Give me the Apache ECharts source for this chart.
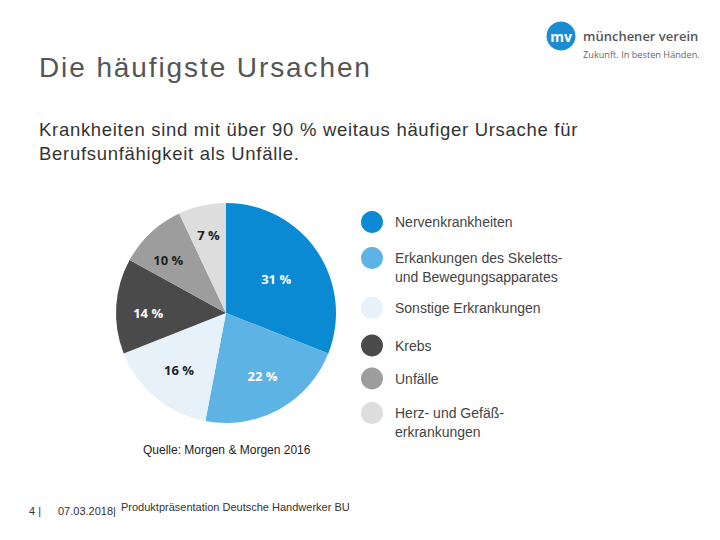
<!DOCTYPE html>
<html><head><meta charset="utf-8">
<script src="https://cdn.jsdelivr.net/npm/echarts@6/dist/echarts.min.js"></script>
<style>html,body{margin:0;padding:0;background:#fff}#c{width:720px;height:540px}</style>
</head><body><div id="c"></div>
<script>
var categories = ['Nervenkrankheiten', 'Erkankungen des Skeletts-\nund Bewegungsapparates', 'Sonstige Erkrankungen', 'Krebs', 'Unfälle', 'Herz- und Gefäß-\nerkrankungen'];
var values = [31, 22, 16, 14, 10, 7];
var colors = ['#0a8ad2', '#5db3e3', '#e6f1fa', '#4a4a4a', '#9d9d9d', '#dddddd'];
var labelColors = ['#ffffff', '#ffffff', '#222222', '#ffffff', '#222222', '#222222'];

var chart = echarts.init(document.getElementById('c'), null, { renderer: 'svg' });
var data = categories.map(function (n, i) {
  return { name: n, value: values[i], itemStyle: { color: colors[i] },
    label: { color: labelColors[i] } };
});
var legendTops = [211, 229.5, 297, 334.5, 367.5, 384.5];
var legends = categories.map(function (n, i) {
  var two = n.indexOf('\n') >= 0;
  return {
    left: 361, top: legendTops[i], padding: 0, orient: 'vertical',
    data: [{ name: n, icon: 'circle' }], itemWidth: 22, itemHeight: 22,
    selectedMode: false,
    formatter: function (name) { return two ? '\n' + name : name; },
    textStyle: { fontFamily: 'Arial', fontSize: 14, color: '#444',
      lineHeight: 19, padding: [0, 0, 0, 7] }
  };
});
var labelShift = [[-16, 11], [-2, -7], [4, -5], [2, 5], [-3, 5], [0, 0]];
chart.setOption({
  animation: false,
  legend: legends,
  series: [{
    type: 'pie', center: [226, 313], radius: 110, startAngle: 90,
    silent: true,
    label: { show: false }, labelLine: { show: false },
    data: data
  }, {
    type: 'pie', center: [226, 313], radius: [0, 154], startAngle: 90,
    silent: true, legendHoverLink: false,
    itemStyle: { color: 'rgba(0,0,0,0)' },
    label: { show: true, position: 'inside', formatter: '{c} %',
      fontFamily: 'Open Sans', fontWeight: 'bold', fontSize: 13 },
    labelLayout: function (p) { var s = labelShift[p.dataIndex]; return { dx: s[0], dy: s[1] }; },
    labelLine: { show: false },
    data: data.map(function (d) { return { name: d.name + ' ', value: d.value, label: d.label }; })
  }],
  graphic: [
    { type: 'text', left: 39, top: 53, style: { text: 'Die häufigste Ursachen', fontFamily: 'Arial', fontSize: 28, fill: '#555' } },
    { type: 'text', left: 39, top: 118, style: { text: 'Krankheiten sind mit über 90 % weitaus häufiger Ursache für\nBerufsunfähigkeit als Unfälle.', fontFamily: 'Arial', fontSize: 18.5, fill: '#333', lineHeight: 23.5 } },
    { type: 'circle', shape: { cx: 561, cy: 36, r: 14.5 }, style: { fill: '#1a8ccf' } },
    { type: 'text', x: 561, y: 36, style: { text: 'mv', fontFamily: 'Open Sans', fontWeight: 'bold', fontSize: 14, fill: '#fff', align: 'center', verticalAlign: 'middle' } },
    { type: 'text', x: 583, y: 36, style: { text: 'münchener verein', fontFamily: 'Open Sans', fontWeight: 600, fontSize: 13, fill: '#555', verticalAlign: 'middle' } },
    { type: 'text', x: 583, y: 54, style: { text: 'Zukunft. In besten Händen.', fontFamily: 'Open Sans', fontSize: 9.2, fill: '#666', verticalAlign: 'middle' } },
    { type: 'text', left: 143, top: 444, style: { text: 'Quelle: Morgen & Morgen 2016', fontFamily: 'Arial', fontWeight: 500, fontSize: 12, fill: '#222' } },
    { type: 'text', left: 29, top: 505, style: { text: '4 |', fontFamily: 'Arial', fontSize: 11, fill: '#333' } },
    { type: 'text', left: 58, top: 505, style: { text: '07.03.2018|', fontFamily: 'Arial', fontSize: 11, fill: '#333' } },
    { type: 'text', left: 121, top: 501, style: { text: 'Produktpräsentation Deutsche Handwerker BU', fontFamily: 'Arial', fontSize: 11, fill: '#333' } }
  ]
});
function spacing() {
  var texts = chart.getDom().querySelectorAll('text');
  texts.forEach(function (t) {
    var s = t.textContent || '';
    if (s.indexOf('Die häufigste') === 0) t.setAttribute('letter-spacing', '1.9px');
    else if (s.indexOf('Krankheiten sind') === 0 || s.indexOf('Berufsunfähigkeit') === 0) t.setAttribute('letter-spacing', '0.7px');
  });
}
spacing();
chart.on('finished', spacing);
setTimeout(spacing, 50);
</script></body></html>
